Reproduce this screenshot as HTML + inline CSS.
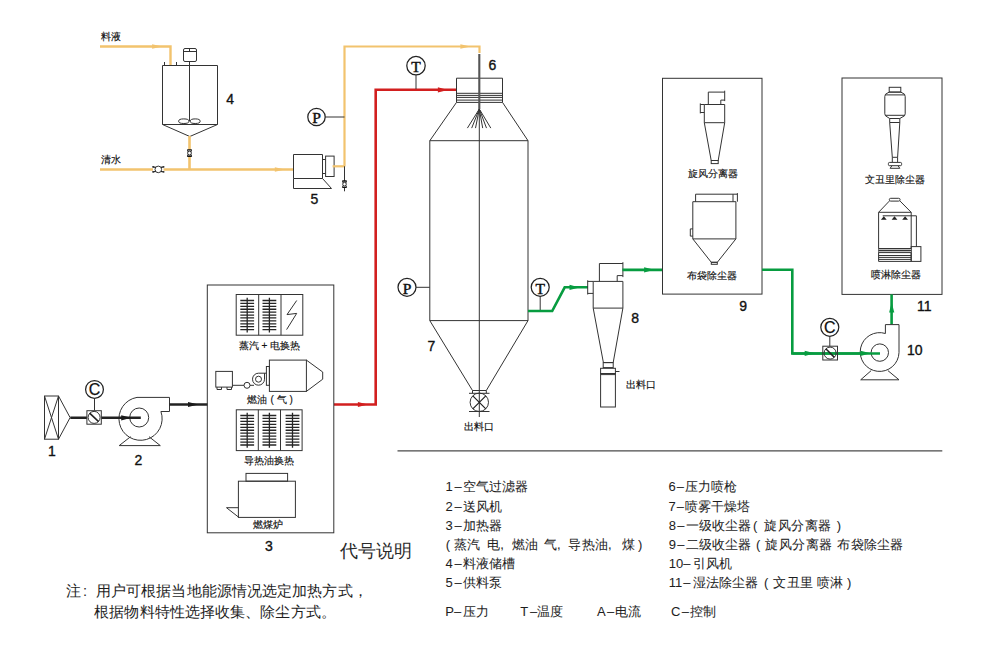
<!DOCTYPE html>
<html><head><meta charset="utf-8">
<style>
html,body{margin:0;padding:0;background:#fff;width:990px;height:647px;overflow:hidden}
svg{display:block;font-family:"Liberation Sans",sans-serif}
.k{stroke:#333;stroke-width:1;fill:none}
.kf{stroke:#333;stroke-width:1;fill:#fff}
.y{stroke:#f2c36e;stroke-width:2.6;fill:none}
.r{stroke:#d21f1f;stroke-width:2.6;fill:none}
.g{stroke:#079c40;stroke-width:2.6;fill:none}
.b{stroke:#222;stroke-width:2.4;fill:none}
.t{fill:#111;font-size:10px;stroke:#111;stroke-width:0.15}
.n{fill:#111;font-size:14px;text-anchor:middle;stroke:#111;stroke-width:0.35}
.lg{fill:#1e1e1e;font-size:13px;stroke:#1e1e1e;stroke-width:0.05}
.nt{fill:#1e1e1e;font-size:14.5px;letter-spacing:0.1px}
.ps{font-family:"Liberation Serif",serif;font-size:15.5px;fill:#111;stroke:#111;stroke-width:0.45}
.cs{font-size:16px;fill:#111;stroke:#111;stroke-width:0.25}
</style></head><body>
<svg width="990" height="647" viewBox="0 0 990 647">
<!-- ============ feed tank 4 ============ -->
<path class="y" d="M100 46.5H170.5V66" style="stroke-width:2.4"/>
<path d="M152.1 44.2L162.1 46.5L152.1 48.8Z" fill="#f2c36e"/>
<rect class="k" x="183.5" y="48.5" width="13" height="13" rx="1.5"/>
<line class="k" x1="183.5" y1="51.5" x2="196.5" y2="51.5"/>
<line class="k" x1="189.5" y1="48.5" x2="189.5" y2="51.5"/>
<path class="k" d="M162.5 124.5V65.5H217.5V124.5L189.8 136.5L162.5 124.5Z"/>
<line class="k" x1="162.5" y1="124.5" x2="217.5" y2="124.5"/>
<line class="k" x1="189.5" y1="61.5" x2="189.5" y2="121"/>
<ellipse class="k" cx="183.8" cy="121.2" rx="5.2" ry="2.3"/>
<ellipse class="k" cx="195.2" cy="121.2" rx="5" ry="2.3"/>
<path class="k" d="M164.5 62V65.5H176.5V62"/>
<text class="n" x="230.1" y="103.7">4</text>
<text class="t" x="101" y="40.4">料液</text>
<!-- clean water line -->
<path class="y" d="M100 169.5H294"/>
<path class="y" d="M189.5 136V169.5"/>
<path d="M274.8 167.2L284.8 169.5L274.8 171.8Z" fill="#f2c36e"/>
<g transform="translate(158.3,169.4)">
<rect x="-5.3" y="-3" width="10.6" height="6" fill="#fff"/>
<circle class="kf" cx="0" cy="0" r="3.3"/>
<path d="M-5.3 -2.6L-2.6 -2M-5.3 2.6L-2.6 2M5.3 -2.6L2.6 -2M5.3 2.6L2.6 2" stroke="#222" stroke-width="1.2" fill="none"/>
<path d="M-5.3 -3.2V-1.8M-5.3 3.2V1.8M5.3 -3.2V-1.8M5.3 3.2V1.8" stroke="#111" stroke-width="1.6"/>
</g>
<g transform="translate(189.5,153.1)">
<rect x="-2.6" y="-3.2" width="5.2" height="6.4" fill="#fff"/>
<circle class="kf" cx="0" cy="0" r="1.9"/>
<path d="M-2.3 -3.2H2.3M-2.3 3.2H2.3" stroke="#111" stroke-width="1.4"/>
<path d="M-2 -3L-1.4 -1.2M2 -3L1.4 -1.2M-2 3L-1.4 1.2M2 3L1.4 1.2" stroke="#222" stroke-width="1"/>
</g>
<text class="t" x="101" y="163.3">清水</text>
<!-- pump 5 -->
<path class="k" d="M293.5 154.5H322.5V178.5H293.5ZM293.5 178.5V188.5H331.5L322.5 178.5M322.5 159.5H325.6M322.5 173.5H325.6"/>
<rect class="kf" x="325.6" y="156.1" width="8.5" height="20.4"/>
<path class="y" d="M332.6 166.3H344.5" style="stroke-width:2.2"/>
<path class="y" d="M344.5 166.5V46.5H479.5V53" style="stroke-width:2.2"/>
<path d="M460.4 44.2L470.4 46.5L460.4 48.8Z" fill="#f2c36e"/>
<path class="k" d="M344.5 166.3V191.3"/>
<g transform="translate(344.5,184.2)">
<rect x="-2.4" y="-3.2" width="4.8" height="6.4" fill="#fff"/>
<circle class="kf" cx="0" cy="0" r="1.8"/>
<path d="M-2.2 -3.2H2.2M-2.2 3.2H2.2" stroke="#111" stroke-width="1.3"/>
<path d="M-2 -3L-1.3 -1.2M2 -3L1.3 -1.2M-2 3L-1.3 1.2M2 3L1.3 1.2" stroke="#222" stroke-width="1"/>
</g>
<text class="n" x="314.4" y="203.7">5</text>
<!-- P on feed line -->
<circle class="k" style="stroke-width:1.25;stroke:#222" cx="316.5" cy="117" r="8.7"/>
<text class="ps" x="316.5" y="123.2" text-anchor="middle">P</text>
<line class="k" x1="325.2" y1="117" x2="344.5" y2="117"/>
<!-- ============ hot air red line ============ -->
<path class="r" d="M334 404.5H375.7V89.8H456.5"/>
<path d="M437.9 87.3L447.9 89.9L437.9 92.5Z" fill="#d21f1f"/>
<path d="M357.9 401.9L367.9 404.5L357.9 407.1Z" fill="#d21f1f"/>
<circle class="k" style="stroke-width:1.25;stroke:#222" cx="416" cy="65.7" r="9.2"/>
<text class="ps" x="416" y="72.2" text-anchor="middle">T</text>
<line class="k" x1="416" y1="75" x2="416" y2="89"/>
<!-- ============ tower 7 ============ -->
<path class="k" d="M456.5 78.2H502.5V102.4H456.5Z"/>
<path class="k" d="M456.5 93.3H502.5M456.5 95.4H502.5M456.5 97.4H502.5M456.5 100.1H502.5"/>
<path class="k" d="M456.5 102.4L429.8 140.7H528L502.5 102.4M429.8 140.7V320.6H528V140.7M429.8 320.6L472.5 390.5M528 320.6L486.3 390.5"/>
<line x1="479.3" y1="54" x2="479.3" y2="109" stroke="#555" stroke-width="2.1"/>
<line class="k" x1="479.3" y1="109" x2="479.3" y2="417"/>
<path class="k" d="M479.3 109L467.4 128.1M479.3 109L471.7 128.1M479.3 109L475.5 128.1M479.3 109L482.7 128.1M479.3 109L486.5 128.1M479.3 109L490.8 128.1"/>
<text class="n" x="492.5" y="69.8">6</text>
<text class="n" x="431.3" y="350.8">7</text>
<path class="k" d="M472.5 390.5H486.3M472.5 390.5V393.3M486.3 390.5V393.3M469 393.3H489.5"/>
<circle class="k" cx="479.3" cy="402.3" r="9.2"/>
<path d="M472.8 395.8L485.8 408.8M485.8 395.8L472.8 408.8" stroke="#222" stroke-width="1.2"/>
<path class="k" d="M469 411.5H489.5"/>
<text class="t" x="479.3" y="429.5" text-anchor="middle">出料口</text>
<circle class="k" style="stroke-width:1.25;stroke:#222" cx="407" cy="287.3" r="9"/>
<text class="ps" x="407" y="293.5" text-anchor="middle">P</text>
<line class="k" x1="416" y1="287.3" x2="429.8" y2="287.3"/>
<circle class="k" style="stroke-width:1.25;stroke:#222" cx="540.2" cy="287.3" r="9"/>
<text class="ps" x="540.2" y="293.5" text-anchor="middle">T</text>
<line class="k" x1="540.2" y1="296.3" x2="540.2" y2="311"/>
<!-- green to cyclone 8 -->
<path class="g" d="M528 311H552.2L564.7 287.3H588"/>
<path d="M569.5 284.8L579.5 287.4L569.5 290.0Z" fill="#079c40"/>
<!-- cyclone 8 -->
<path class="k" d="M599.4 281.4V263.5H622.9M617.2 281.4V275.6H622.9M622.9 262.2V277.1"/>
<path class="k" d="M593.2 281.4H622.9V308.1H593.2ZM593.2 281.4H587.7M587.7 280.3V294.5M587.7 293.4H593.2"/>
<path class="k" d="M593.2 308.1L603.4 362.6H613.2L622.9 308.1"/>
<rect class="k" x="603.2" y="362.6" width="10" height="5"/>
<rect class="k" x="600.6" y="368.3" width="14.8" height="5.2"/>
<path class="k" d="M600.6 374.6H615.4M615.4 371.5H619.5"/>
<rect class="k" x="600.6" y="373.5" width="14.8" height="33.5"/>
<text class="n" x="635.2" y="322.5">8</text>
<text class="t" x="640.5" y="387.8" text-anchor="middle">出料口</text>
<path class="g" d="M622.4 269.9H663"/>
<path d="M644.1 267.2L654.1 269.8L644.1 272.4Z" fill="#079c40"/>
<!-- ============ box 9 ============ -->
<rect class="k" x="662.5" y="78.3" width="99.5" height="215.8"/>
<g>
<path class="k" d="M708.3 104.5V92.1H724.7M720.8 104.5V100.1H724.7M724.7 90.7V101.1"/>
<path class="k" d="M704.3 104.5H724.7V122.7H704.3ZM704.3 104.5H700.3M700.3 103.4V113.4M700.3 112.5H704.3"/>
<path class="k" d="M704.3 122.7L711.2 160.5H718.2L724.7 122.7"/>
<rect class="k" x="711.2" y="160.5" width="7" height="3.1"/>
</g>
<text class="t" x="713" y="176.8" text-anchor="middle">旋风分离器</text>
<g>
<path class="k" d="M695.6 201.7V194.2H737.4M733 194.2V201.7M737.4 193.1V201.7"/>
<path class="k" d="M692.8 201.7H735.9V238.9H692.8ZM692.8 228.9H690.3V236.1H692.8"/>
<path class="k" d="M692.8 238.9L711.3 262.3H717.3L735.9 238.9"/>
<rect class="k" x="711.3" y="262.3" width="6" height="2"/>
</g>
<text class="t" x="711.5" y="279" text-anchor="middle">布袋除尘器</text>
<text class="n" x="743.2" y="310.8">9</text>
<path class="g" d="M762 269.7H792.3V353.5H880"/>


<!-- ============ box 11 ============ -->
<rect class="k" x="842" y="78" width="100" height="216.4"/>
<g>
<rect class="k" x="889.2" y="87.3" width="11.6" height="4.8"/>
<path class="k" d="M889.2 92.1L885.5 94.2L884.8 96.5V113.8L885.5 115.8L889.7 118.5H899.8L904.5 115.8L905.2 113.8V96.5L904.5 94.2L900.8 92.1Z"/>
<path class="k" d="M885.3 94.9H904.7M885.3 115.3H904.7"/>
<path class="k" d="M889.7 122.5H899.8M889.7 118.5V122.5M899.8 118.5V122.5M889.7 122.5L892.3 157.3H897.6L899.8 122.5M892.3 157.3V162.3M897.6 157.3V162.3"/>
<rect class="k" x="888.4" y="162.4" width="13.2" height="3.3" rx="1.2"/>
<path class="k" d="M892 165.7L890.1 168.3H899.8L898 165.7"/>
</g>
<text class="t" x="895" y="183" text-anchor="middle">文丑里除尘器</text>
<g>
<rect class="k" x="889.3" y="198.3" width="10.8" height="2.8" rx="1.4"/>
<path class="k" d="M889.3 201.1L878.6 212.3V261.4H911.2V212.3L900.1 201.1M878.6 212.3H911.2"/>
<path class="k" d="M882.7 215.8H916.4V246.6"/>
<rect class="k" x="911.2" y="246.6" width="9.7" height="14.8"/>
<path d="M883.8 216.3L880.9 219.8H886.7Z M894.5 216.3L891.6 219.8H897.4Z M905.1 216.3L902.2 219.8H908Z" fill="#222"/>
<rect x="878.6" y="248.3" width="32.6" height="4.5" fill="#bdbdbd"/>
<path class="k" d="M878.6 248.5H911.2M878.6 250.5H911.2M878.6 252.6H911.2M878.6 255.5H911.2M878.6 257.4H911.2M878.6 259.4H911.2"/>
</g>
<text class="t" x="896.3" y="277.5" text-anchor="middle">喷淋除尘器</text>
<text class="n" x="924.3" y="311.2">11</text>
<!-- fan 10 -->
<path class="g" d="M891.6 324.5V294.4"/>
<path d="M889.1 312.5L891.7 302.5L894.3 312.5Z" fill="#079c40"/>
<path class="kf" d="M899 352.6V324.6H885.4V333.5A19.4 19.4 0 1 0 899 352.6Z"/>
<circle class="k" cx="879.8" cy="352.6" r="8.7"/>
<path class="k" d="M860.7 379.8H899L887.9 370.6M860.7 379.8L871.2 370.6"/>
<path class="g" d="M792.3 353.5H880"/>
<path d="M804.7 350.7L814.7 353.3L804.7 355.9Z" fill="#079c40"/>
<path d="M860.5 350.7L870.5 353.3L860.5 355.9Z" fill="#079c40"/>
<text class="n" x="914.8" y="355.0">10</text>
<!-- C + damper on exhaust line -->
<circle class="k" style="stroke-width:1.25;stroke:#222" cx="829.8" cy="327.3" r="9"/>
<text class="cs" x="829.8" y="333.1" text-anchor="middle">C</text>
<line class="k" x1="829.8" y1="336.3" x2="829.8" y2="346.2"/>
<rect class="k" x="822.8" y="346.2" width="14.7" height="13.8"/>
<circle class="k" cx="830.1" cy="353.1" r="6"/>
<line x1="825.8" y1="348.8" x2="834.4" y2="357.4" stroke="#222" stroke-width="1.5"/>
<!-- ============ left: filter, C, fan 2 ============ -->
<rect class="k" x="44.5" y="396" width="14" height="43.2"/>
<path class="k" d="M44.5 396L58.5 439.2M58.5 396L44.5 439.2M58.5 396L70.1 417.6L58.5 439.2"/>
<text class="n" x="51.9" y="456.2">1</text>
<path class="kf" d="M137 397.4H169.5V411.5H160.9A21.6 21.6 0 1 1 137 397.4Z"/>
<circle class="k" cx="139.2" cy="417.5" r="9.5"/>
<path class="k" d="M119.2 445.6H160.3L149 436.7M119.2 445.6L130.6 436.7"/>
<path class="b" d="M70.3 417.7H140.8"/>
<path d="M121.2 415.2L131.2 417.8L121.2 420.4Z" fill="#1a1a1a"/>
<text class="n" x="138.3" y="465.1">2</text>
<path class="b" d="M169.5 404.5H207.5"/>
<path d="M188.0 401.9L198.5 404.5L188.0 407.1Z" fill="#1a1a1a"/>
<circle class="k" style="stroke-width:1.25;stroke:#222" cx="94.5" cy="389.4" r="8.9"/>
<text class="cs" x="94.5" y="395.2" text-anchor="middle">C</text>
<line class="k" x1="94.5" y1="398.3" x2="94.5" y2="410.7"/>
<rect class="kf" x="86.9" y="410.7" width="14.4" height="13.5"/>
<circle class="kf" cx="94.1" cy="417.4" r="6"/>
<line x1="89.6" y1="413.2" x2="98.6" y2="421.7" stroke="#222" stroke-width="1.6"/>
<!-- ============ box 3 ============ -->
<rect class="k" x="207.3" y="285" width="126.5" height="247.8"/>
<text class="n" x="268.8" y="551.1">3</text>
<rect class="k" x="236.2" y="294.5" width="66.6" height="40.7"/>
<path class="k" d="M258.7 294.5V335.2M281 294.5V335.2"/>
<path d="M247.2 297.7V332.4M240.3 300.50H254.1M240.3 303.41H254.1M240.3 306.32H254.1M240.3 309.23H254.1M240.3 312.14H254.1M240.3 315.05H254.1M240.3 317.96H254.1M240.3 320.87H254.1M240.3 323.78H254.1M240.3 326.69H254.1M240.3 329.60H254.1M269.4 297.7V332.4M262.5 300.50H276.3M262.5 303.41H276.3M262.5 306.32H276.3M262.5 309.23H276.3M262.5 312.14H276.3M262.5 315.05H276.3M262.5 317.96H276.3M262.5 320.87H276.3M262.5 323.78H276.3M262.5 326.69H276.3M262.5 329.60H276.3" stroke="#262626" stroke-width="1.3" fill="none"/>
<path class="k" d="M296.7 300.5L287 314.6L296.7 313.4L286.6 329.6"/>
<path d="M247.2 412.7V447.8M240.3 415.50H254.1M240.3 418.45H254.1M240.3 421.40H254.1M240.3 424.35H254.1M240.3 427.30H254.1M240.3 430.25H254.1M240.3 433.20H254.1M240.3 436.15H254.1M240.3 439.10H254.1M240.3 442.05H254.1M240.3 445.00H254.1M269.4 412.7V447.8M262.5 415.50H276.3M262.5 418.45H276.3M262.5 421.40H276.3M262.5 424.35H276.3M262.5 427.30H276.3M262.5 430.25H276.3M262.5 433.20H276.3M262.5 436.15H276.3M262.5 439.10H276.3M262.5 442.05H276.3M262.5 445.00H276.3M292.5 412.7V447.8M285.6 415.50H299.4M285.6 418.45H299.4M285.6 421.40H299.4M285.6 424.35H299.4M285.6 427.30H299.4M285.6 430.25H299.4M285.6 433.20H299.4M285.6 436.15H299.4M285.6 439.10H299.4M285.6 442.05H299.4M285.6 445.00H299.4" stroke="#262626" stroke-width="1.3" fill="none"/>
<!-- burner -->
<rect class="k" x="215.8" y="371.4" width="16.6" height="15.7"/>
<path class="k" d="M217 387.1V389.5H221.5V387.1M227 387.1V389.5H231.5V387.1"/>
<path class="k" d="M232.4 385.3H244M250 385.3H254"/>
<circle class="k" cx="247" cy="385.3" r="3"/>
<path class="k" d="M266.4 373.2H258.5A6 6 0 1 0 264.5 379.2V373.2"/>
<circle class="k" cx="258.5" cy="379.2" r="3"/>
<rect class="k" x="266.4" y="366.5" width="3" height="18.8"/>
<rect class="k" x="269.4" y="360.1" width="37" height="31.3"/>
<path class="k" d="M306.4 360.1L322.7 372V379.2L306.4 391.4"/>
<!-- coal furnace -->
<rect class="k" x="246" y="473.4" width="41.6" height="7.8"/>
<rect class="k" x="238.4" y="481.2" width="57" height="36.2"/>
<path class="k" d="M238.4 507.7H226.5L238.9 517.4"/>
<text class="t" y="348.6"><tspan x="239">蒸汽</tspan><tspan x="261.5">+</tspan><tspan x="270">电换热</tspan></text>
<text class="t" y="403.2"><tspan x="247.2">燃油</tspan><tspan x="270.6">(</tspan><tspan x="276.9">气</tspan><tspan x="289.4">)</tspan></text>
<rect class="k" x="236.3" y="409.8" width="65.8" height="40.8"/>
<path class="k" d="M258.3 409.8V450.6M280.5 409.8V450.6"/>
<text class="t" x="269.3" y="464.3" text-anchor="middle">导热油换热</text>
<text class="t" x="267.5" y="528" text-anchor="middle">燃煤炉</text>
<!-- ============ legend ============ -->
<line x1="397.5" y1="450.8" x2="942.3" y2="450.8" stroke="#4a4a4a" stroke-width="1.3"/>
<text class="lg" y="491.4"><tspan x="445.5">1</tspan><tspan x="454.5">–</tspan><tspan x="462.5" style="letter-spacing:0.2px">空气过滤器</tspan></text>
<text class="lg" y="510.6"><tspan x="445.5">2</tspan><tspan x="454.5">–</tspan><tspan x="462.5" style="letter-spacing:0.2px">送风机</tspan></text>
<text class="lg" y="530"><tspan x="445.5">3</tspan><tspan x="454.5">–</tspan><tspan x="462.5" style="letter-spacing:0.2px">加热器</tspan></text>
<text class="lg" y="549.2"><tspan x="445.7">(</tspan><tspan x="453.7" style="letter-spacing:0.35px">蒸汽</tspan><tspan x="487.1">电</tspan><tspan x="500.2">,</tspan><tspan x="511.5" style="letter-spacing:0.35px">燃油</tspan><tspan x="543.7">气</tspan><tspan x="556.9">,</tspan><tspan x="568.2" style="letter-spacing:0.35px">导热油</tspan><tspan x="608">,</tspan><tspan x="621.5">煤</tspan><tspan x="638">)</tspan></text>
<text class="lg" y="568.1"><tspan x="445.5">4</tspan><tspan x="454.5">–</tspan><tspan x="462.5" style="letter-spacing:0.2px">料液储槽</tspan></text>
<text class="lg" y="587.3"><tspan x="445.5">5</tspan><tspan x="454.5">–</tspan><tspan x="462.5" style="letter-spacing:0.2px">供料泵</tspan></text>
<text class="lg" y="616.3"><tspan x="445.2">P</tspan><tspan x="454.1">–</tspan><tspan x="462.5" style="letter-spacing:0.3px">压力</tspan><tspan x="520.3">T</tspan><tspan x="530">–</tspan><tspan x="537" style="letter-spacing:0.3px">温度</tspan><tspan x="597">A</tspan><tspan x="606.9">–</tspan><tspan x="614.7" style="letter-spacing:0.3px">电流</tspan><tspan x="671">C</tspan><tspan x="681.8">–</tspan><tspan x="689.6" style="letter-spacing:0.3px">控制</tspan></text>
<text class="lg" y="491.4"><tspan x="668.4">6</tspan><tspan x="676.7">–</tspan><tspan x="684.7" style="letter-spacing:0.1px">压力喷枪</tspan></text>
<text class="lg" y="510.6"><tspan x="668.4">7</tspan><tspan x="676.7">–</tspan><tspan x="684.7" style="letter-spacing:0.1px">喷雾干燥塔</tspan></text>
<text class="lg" y="530"><tspan x="668.7">8</tspan><tspan x="677.2">–</tspan><tspan x="686" style="letter-spacing:0.1px">一级收尘器</tspan><tspan x="753">(</tspan><tspan x="764.3" style="letter-spacing:0.5px">旋风分离器</tspan><tspan x="836.8">)</tspan></text>
<text class="lg" y="549.2"><tspan x="668.7">9</tspan><tspan x="677.2">–</tspan><tspan x="686" style="letter-spacing:0.1px">二级收尘器</tspan><tspan x="756">(</tspan><tspan x="765.3" style="letter-spacing:0.5px">旋风分离器</tspan><tspan x="837.3" style="letter-spacing:0.25px">布袋除尘器</tspan></text>
<text class="lg" y="568.1"><tspan x="668.7">10</tspan><tspan x="683.2">–</tspan><tspan x="692.6" style="letter-spacing:0.1px">引风机</tspan></text>
<text class="lg" y="587.3"><tspan x="668.7">11</tspan><tspan x="683.2">–</tspan><tspan x="692.6" style="letter-spacing:0.1px">湿法除尘器</tspan><tspan x="764">(</tspan><tspan x="773.4" style="letter-spacing:0.5px">文丑里</tspan><tspan x="817">喷淋</tspan><tspan x="847">)</tspan></text>
<text fill="#2a2a2a" font-size="17.5" x="340.3" y="557.2">代号说明</text>
<text class="nt" x="66" y="596"><tspan>注</tspan><tspan x="83">:</tspan><tspan x="96">用户可根据当地能源情况选定加热方式，</tspan></text>
<text class="nt" x="94.3" y="617">根据物料特性选择收集、除尘方式。</text>
</svg>
</body></html>
